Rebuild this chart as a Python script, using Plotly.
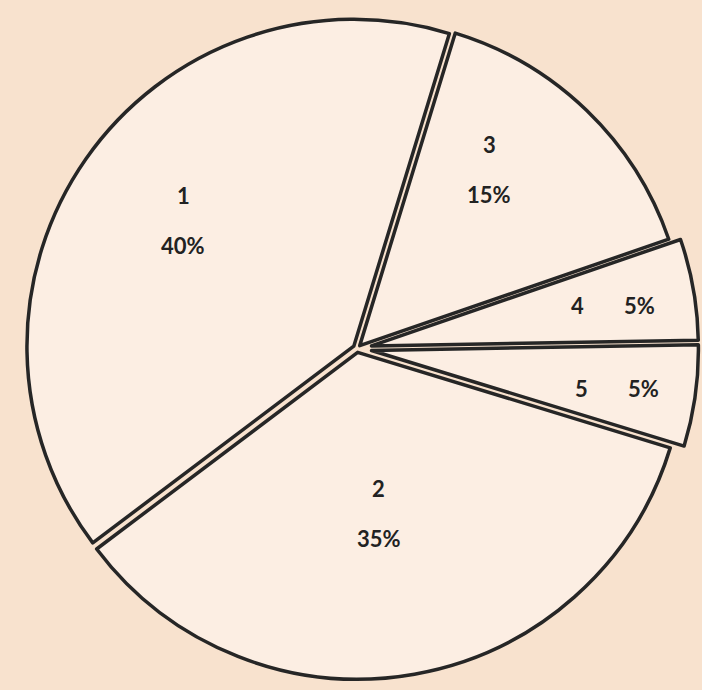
import math
import plotly.graph_objects as go

# Data (clockwise order starting near the top, slice 3 first)
labels = ["3", "4", "5", "2", "1"]
values = [15, 5, 5, 35, 40]

# Styles
pulls = [0.012, 0.045, 0.045, 0.012, 0.012]
label_radius = [0.68, 0.78, 0.79, 0.51, 0.66]      # fraction of pie radius for text
label_angle_shift = [-7.5, 0.3, 0.9, 2.5, 1.3]      # degrees relative to slice mid-angle
stacked = [True, False, False, True, True]          # label above percent, or side by side
ROTATION = 17
W, H = 702, 690
DOM_X = [12 / W, 1.0]
DOM_Y = [0.0, 0.99]

FILL = "#FCEEE3"
BG = "#F8E2CE"
INK = "#222222"
FONT = dict(family="Lato", size=22, color=INK, weight="bold")

fig = go.Figure(
    go.Pie(
        labels=labels,
        values=values,
        textinfo="none",
        sort=False,
        direction="clockwise",
        rotation=ROTATION,
        pull=pulls,
        marker=dict(colors=[FILL] * len(values), line=dict(color="#262626", width=3.5)),
        showlegend=False,
        hoverinfo="skip",
        domain=dict(x=DOM_X, y=DOM_Y),
    )
)

# Text placement derived from the data (mid-angle of each slice)
cx = (DOM_X[0] + DOM_X[1]) / 2 * W
cy = (DOM_Y[0] + DOM_Y[1]) / 2 * H  # pixels from bottom
R = min((DOM_X[1] - DOM_X[0]) * W, (DOM_Y[1] - DOM_Y[0]) * H) / 2 / (1 + max(pulls))
total = sum(values)
cum = 0
for lab, v, f, sh, st in zip(labels, values, label_radius, label_angle_shift, stacked):
    mid = ROTATION + (cum + v / 2) / total * 360 + sh
    cum += v
    a = math.radians(mid)
    px = cx + f * R * math.sin(a)
    py = cy + f * R * math.cos(a)
    pct = f"{round(v / total * 100)}%"
    if st:
        offs = [(lab, 0, 25), (pct, 0, -25)]
    else:
        offs = [(lab, -31, 0), (pct, 31, 0)]
    for t, dx, dy in offs:
        fig.add_annotation(
            x=px / W, y=py / H, xref="paper", yref="paper",
            text=t, showarrow=False, xshift=dx, yshift=dy,
            font=FONT, xanchor="center", yanchor="middle",
        )

fig.update_layout(
    width=W,
    height=H,
    margin=dict(l=0, r=0, t=0, b=0),
    paper_bgcolor=BG,
    plot_bgcolor=BG,
)

fig.write_html("out.html")
